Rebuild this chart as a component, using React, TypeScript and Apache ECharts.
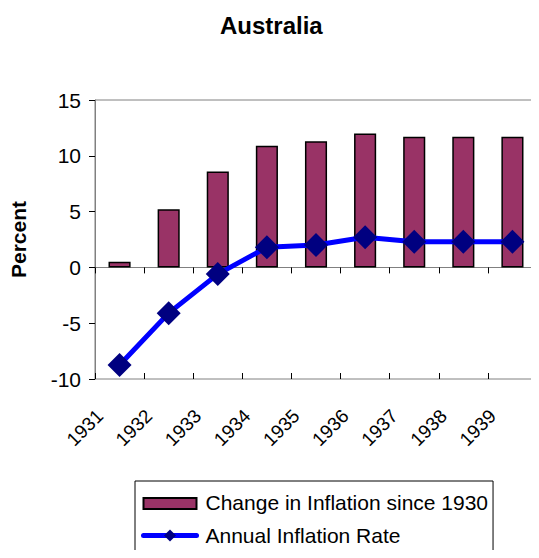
import React, { useEffect, useRef } from "react";
import * as echarts from "echarts";

const categories = ["1931", "1932", "1933", "1934", "1935", "1936", "1937", "1938", "1939"];
const changeSince1930 = [0.5, 5.2, 8.6, 10.9, 11.3, 12.0, 11.7, 11.7, 11.7];
const annualRate = [-8.75, -4.1, -0.6, 1.8, 2.0, 2.7, 2.3, 2.3, 2.3];
const yTicks = { min: -10, max: 15, interval: 5 };

const FONT = "Liberation Sans, Arial, sans-serif";

export default function App() {
  const ref = useRef<HTMLDivElement>(null);
  useEffect(() => {
    if (!ref.current) return;
    const chart = echarts.init(ref.current, undefined, { renderer: "svg" });
    chart.setOption({
      animation: false,
      backgroundColor: "#ffffff",
      textStyle: { fontFamily: FONT, color: "#000" },
      title: {
        text: "Australia",
        left: 215,
        top: 8,
        textStyle: { fontFamily: FONT, fontSize: 24, fontWeight: "bold", color: "#000" },
      },
      grid: {
        left: 95,
        right: 2,
        top: 100,
        bottom: 179,
        show: true,
        borderColor: "#808080",
        borderWidth: 1,
        backgroundColor: "transparent",
      },
      legend: {
        orient: "vertical",
        left: 135,
        top: 481,
        padding: [11, 5, 9, 6],
        itemGap: 12,
        itemWidth: 53,
        itemHeight: 15,
        borderColor: "#000",
        borderWidth: 1,
        lineStyle: { width: 5, cap: "round" },
        textStyle: { fontFamily: FONT, fontSize: 21, color: "#000", padding: [0, 0, 0, 4] },
        data: [
          { name: "Change in Inflation since 1930", icon: "path://M0,0L0.01,0M0,2H53V13H0Z" },
          { name: "Annual Inflation Rate" },
        ],
      },
      xAxis: [
        {
          type: "category",
          data: categories,
          position: "bottom",
          axisLine: { onZero: true, lineStyle: { color: "#808080", width: 1 } },
          axisTick: { show: true, length: 6, lineStyle: { color: "#000" } },
          axisLabel: { show: false },
          splitLine: { show: false },
        },
        {
          type: "category",
          data: categories,
          position: "bottom",
          axisLine: { onZero: true, show: false },
          axisTick: { show: true, inside: true, length: 6, lineStyle: { color: "#000" } },
          axisLabel: { show: false },
          splitLine: { show: false },
        },
        {
          type: "category",
          data: categories,
          position: "bottom",
          axisLine: { onZero: false, show: false },
          axisTick: { show: false },
          axisLabel: {
            show: true,
            interval: 0,
            rotate: 45,
            margin: 14,
            padding: [0, 28, 0, 0],
            fontFamily: FONT,
            fontSize: 19,
            color: "#000",
          },
          splitLine: { show: false },
        },
      ],
      yAxis: {
        type: "value",
        min: yTicks.min,
        max: yTicks.max,
        interval: yTicks.interval,
        name: "Percent",
        nameLocation: "middle",
        nameRotate: 90,
        nameGap: 66,
        nameTextStyle: { fontFamily: FONT, fontSize: 21, fontWeight: "bold", color: "#000" },
        axisLine: { show: true, lineStyle: { color: "#808080" } },
        axisTick: { show: true, length: 6, lineStyle: { color: "#000" } },
        axisLabel: { margin: 14, fontFamily: FONT, fontSize: 21, color: "#000" },
        splitLine: { show: false },
      },
      series: [
        {
          name: "Change in Inflation since 1930",
          type: "bar",
          xAxisIndex: 0,
          data: changeSince1930,
          barWidth: "45%",
          itemStyle: { color: "#993366", borderColor: "#000", borderWidth: 1.5 },
        },
        {
          name: "Annual Inflation Rate",
          type: "line",
          xAxisIndex: 0,
          data: annualRate,
          symbol: "diamond",
          symbolSize: 24,
          lineStyle: { color: "#0000FF", width: 5 },
          itemStyle: { color: "#000080" },
          z: 5,
        },
      ],
    });
    return () => chart.dispose();
  }, []);
  return <div ref={ref} style={{ width: 539, height: 558, margin: -8 }} />;
}
